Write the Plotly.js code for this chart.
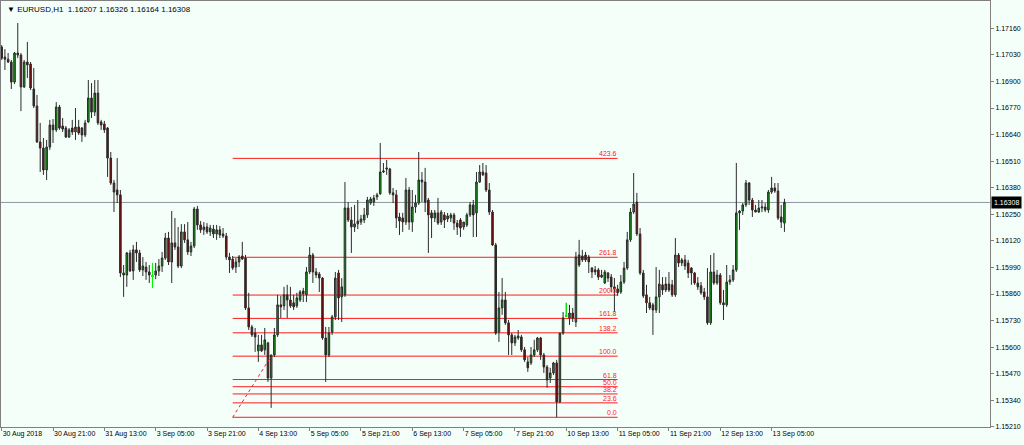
<!DOCTYPE html>
<html>
<head>
<meta charset="utf-8">
<script src="https://cdn.plot.ly/plotly-3.0.1.min.js"></script>
<style>
  html, body { margin: 0; padding: 0; background: #f5fffa; }
  #chart { width: 1024px; height: 445px; }
</style>
</head>
<body>
<div id="chart"></div>
<script>
// EURUSD H1 candles, oldest first
const opens = [
  1.17068,1.17019,1.17009,1.16995,1.16897,1.17039,1.17029,1.16873,1.16995,1.16985,
  1.16863,1.16780,1.16604,1.16574,1.16467,1.16579,1.16687,1.16663,1.16775,1.16682,
  1.16672,1.16628,1.16672,1.16653,1.16677,1.16672,1.16638,1.16702,1.16819,1.16750,
  1.16843,1.16702,1.16692,1.16672,1.16525,1.16403,1.16369,1.16345,1.15963,1.15953,
  1.16061,1.15973,1.16076,1.16061,1.15978,1.15992,1.15968,1.15948,1.15953,1.15973,
  1.15997,1.16036,1.16134,1.16017,1.16110,1.16090,1.15997,1.16164,1.16125,1.16066,
  1.16095,1.16276,1.16198,1.16174,1.16188,1.16164,1.16178,1.16154,1.16174,1.16154,
  1.16144,1.16041,1.16031,1.15992,1.16017,1.16046,1.16036,1.15792,1.15699,1.15669,
  1.15582,1.15611,1.15587,1.15621,1.15449,1.15562,1.15660,1.15807,1.15802,1.15856,
  1.15831,1.15817,1.15802,1.15831,1.15875,1.15856,1.15968,1.16051,1.15968,1.15958,
  1.15938,1.15645,1.15562,1.15674,1.15748,1.15963,1.15846,1.15856,1.16281,1.16222,
  1.16188,1.16203,1.16212,1.16222,1.16247,1.16305,1.16310,1.16335,1.16350,1.16457,
  1.16477,1.16472,1.16355,1.16345,1.16237,1.16232,1.16212,1.16369,1.16212,1.16286,
  1.16305,1.16418,1.16408,1.16320,1.16257,1.16232,1.16257,1.16212,1.16247,1.16227,
  1.16232,1.16247,1.16207,1.16222,1.16188,1.16198,1.16247,1.16296,1.16257,1.16408,
  1.16457,1.16452,1.16369,1.16261,1.16100,1.15674,1.15792,1.15831,1.15719,1.15660,
  1.15621,1.15645,1.15650,1.15587,1.15528,1.15523,1.15562,1.15587,1.15645,1.15562,
  1.15503,1.15449,1.15474,1.15523,1.15332,1.15669,1.15753,1.15743,1.15767,1.15723,
  1.16051,1.16046,1.16051,1.16041,1.15987,1.15978,1.15978,1.15943,1.15914,1.15963,
  1.15943,1.15895,1.15885,1.15870,1.15919,1.15987,1.16125,1.16261,1.16310,1.16154,
  1.15963,1.15856,1.15817,1.15807,1.15782,1.15846,1.15905,1.15880,1.15909,1.15905,
  1.15856,1.16051,1.16012,1.16027,1.16012,1.15987,1.15963,1.15914,1.15900,1.15870,
  1.15846,1.15719,1.15968,1.15914,1.15953,1.15817,1.15807,1.15919,1.15929,1.15978,
  1.16257,1.16266,1.16296,1.16403,1.16320,1.16271,1.16261,1.16281,1.16286,1.16271,
  1.16359,1.16379,1.16364,1.16237,1.16207
];
const highs = [
  1.17078,1.17058,1.17039,1.17005,1.17044,1.17186,1.17039,1.17005,1.17093,1.16995,
  1.16966,1.16834,1.16697,1.16623,1.16614,1.16712,1.16716,1.16799,1.16785,1.16721,
  1.16682,1.16672,1.16712,1.16770,1.16712,1.16677,1.16712,1.16907,1.16892,1.16907,
  1.16907,1.16712,1.16707,1.16677,1.16555,1.16418,1.16525,1.16369,1.16002,1.16066,
  1.16076,1.16100,1.16115,1.16076,1.16041,1.16017,1.16002,1.16012,1.16012,1.16031,
  1.16066,1.16159,1.16164,1.16266,1.16232,1.16188,1.16202,1.16202,1.16212,1.16115,
  1.16286,1.16291,1.16217,1.16212,1.16207,1.16198,1.16198,1.16198,1.16193,1.16183,
  1.16159,1.16061,1.16046,1.16036,1.16051,1.16115,1.16051,1.15866,1.15709,1.15694,
  1.15660,1.15660,1.15694,1.15626,1.15562,1.15694,1.15856,1.15851,1.15895,1.15905,
  1.15895,1.15856,1.15866,1.15880,1.15890,1.15992,1.16090,1.16061,1.15987,1.15968,
  1.15943,1.15699,1.15699,1.15758,1.15968,1.15978,1.15938,1.16408,1.16310,1.16286,
  1.16296,1.16320,1.16247,1.16281,1.16335,1.16335,1.16345,1.16355,1.16599,1.16501,
  1.16516,1.16477,1.16379,1.16369,1.16257,1.16257,1.16428,1.16384,1.16369,1.16345,
  1.16555,1.16457,1.16477,1.16330,1.16271,1.16271,1.16330,1.16271,1.16261,1.16257,
  1.16257,1.16257,1.16222,1.16232,1.16212,1.16257,1.16310,1.16320,1.16457,1.16491,
  1.16501,1.16491,1.16403,1.16271,1.16110,1.15870,1.15938,1.15870,1.15733,1.15669,
  1.15660,1.15684,1.15660,1.15601,1.15552,1.15601,1.15636,1.15650,1.15650,1.15572,
  1.15513,1.15499,1.15528,1.15538,1.15669,1.15772,1.15817,1.15807,1.15792,1.16066,
  1.16125,1.16076,1.16066,1.16051,1.15992,1.15997,1.15987,1.15978,1.15978,1.15968,
  1.15958,1.15938,1.15905,1.15953,1.16017,1.16164,1.16281,1.16452,1.16355,1.16183,
  1.15978,1.15905,1.15846,1.15817,1.15992,1.15978,1.15943,1.15943,1.15968,1.15929,
  1.16134,1.16061,1.16036,1.16051,1.16027,1.15992,1.15968,1.15943,1.15919,1.15890,
  1.15987,1.16051,1.16061,1.15978,1.15963,1.15880,1.16002,1.15953,1.16002,1.16501,
  1.16271,1.16305,1.16418,1.16408,1.16330,1.16296,1.16320,1.16320,1.16305,1.16369,
  1.16433,1.16403,1.16403,1.16296,1.16326
];
const lows = [
  1.17005,1.16956,1.16990,1.16863,1.16887,1.17014,1.16755,1.16868,1.16917,1.16858,
  1.16770,1.16599,1.16457,1.16443,1.16418,1.16565,1.16599,1.16653,1.16663,1.16653,
  1.16623,1.16623,1.16638,1.16614,1.16638,1.16604,1.16628,1.16697,1.16721,1.16731,
  1.16687,1.16663,1.16648,1.16433,1.16394,1.16261,1.16305,1.15943,1.15846,1.15895,
  1.15968,1.15929,1.16017,1.15968,1.15948,1.15929,1.15914,1.15890,1.15933,1.15948,
  1.15968,1.16027,1.16002,1.15914,1.16076,1.15987,1.15987,1.16110,1.16051,1.16046,
  1.16085,1.16174,1.16159,1.16149,1.16154,1.16144,1.16134,1.16125,1.16134,1.16134,
  1.16027,1.15963,1.15978,1.15963,1.15992,1.16027,1.15782,1.15684,1.15650,1.15577,
  1.15528,1.15577,1.15562,1.15430,1.15303,1.15552,1.15650,1.15743,1.15782,1.15743,
  1.15792,1.15782,1.15792,1.15821,1.15821,1.15821,1.15958,1.15914,1.15938,1.15870,
  1.15636,1.15430,1.15552,1.15660,1.15733,1.15733,1.15723,1.15846,1.16212,1.16061,
  1.16164,1.16178,1.16198,1.16207,1.16232,1.16296,1.16291,1.16320,1.16345,1.16452,
  1.16443,1.16345,1.16305,1.16183,1.16149,1.16164,1.16198,1.16174,1.16164,1.16257,
  1.16296,1.16310,1.16261,1.16061,1.16134,1.16212,1.16198,1.16198,1.16183,1.16212,
  1.16212,1.16174,1.16149,1.16139,1.16174,1.16188,1.16237,1.16139,1.16139,1.16403,
  1.16438,1.16359,1.16247,1.16095,1.15660,1.15626,1.15758,1.15709,1.15562,1.15562,
  1.15606,1.15636,1.15577,1.15528,1.15479,1.15513,1.15552,1.15577,1.15538,1.15474,
  1.15401,1.15425,1.15464,1.15257,1.15327,1.15660,1.15748,1.15709,1.15723,1.15699,
  1.15992,1.16017,1.16017,1.15963,1.15938,1.15953,1.15929,1.15938,1.15909,1.15919,
  1.15870,1.15772,1.15851,1.15861,1.15909,1.15978,1.16115,1.16252,1.16144,1.15953,
  1.15841,1.15767,1.15782,1.15660,1.15767,1.15767,1.15856,1.15870,1.15870,1.15846,
  1.15846,1.15992,1.15997,1.15978,1.15938,1.15905,1.15905,1.15880,1.15856,1.15831,
  1.15709,1.15709,1.15905,1.15905,1.15807,1.15733,1.15797,1.15905,1.15919,1.15968,
  1.16174,1.16247,1.16286,1.16296,1.16237,1.16261,1.16257,1.16261,1.16261,1.16257,
  1.16350,1.16355,1.16222,1.16183,1.16164
];
const closes = [
  1.17014,1.17009,1.16995,1.16897,1.17039,1.17029,1.16873,1.16995,1.16981,1.16868,
  1.16780,1.16604,1.16574,1.16467,1.16579,1.16687,1.16663,1.16775,1.16672,1.16667,
  1.16628,1.16663,1.16653,1.16677,1.16648,1.16638,1.16697,1.16819,1.16750,1.16843,
  1.16697,1.16687,1.16663,1.16525,1.16403,1.16359,1.16345,1.15963,1.15953,1.16061,
  1.15973,1.16076,1.16061,1.15978,1.15997,1.15968,1.15953,1.15948,1.15973,1.15997,
  1.16036,1.16134,1.16017,1.16110,1.16090,1.15997,1.16164,1.16125,1.16066,1.16095,
  1.16276,1.16198,1.16174,1.16188,1.16164,1.16183,1.16154,1.16174,1.16149,1.16144,
  1.16041,1.16027,1.15987,1.16017,1.16041,1.16031,1.15792,1.15699,1.15660,1.15650,
  1.15611,1.15582,1.15636,1.15449,1.15562,1.15660,1.15807,1.15797,1.15856,1.15831,
  1.15802,1.15797,1.15841,1.15870,1.15861,1.15968,1.16051,1.15968,1.15953,1.15938,
  1.15645,1.15562,1.15669,1.15748,1.15938,1.15841,1.15895,1.16281,1.16222,1.16188,
  1.16203,1.16217,1.16227,1.16247,1.16320,1.16325,1.16330,1.16345,1.16457,1.16462,
  1.16472,1.16355,1.16345,1.16232,1.16217,1.16212,1.16369,1.16212,1.16286,1.16305,
  1.16418,1.16408,1.16310,1.16247,1.16232,1.16257,1.16207,1.16261,1.16222,1.16242,
  1.16247,1.16207,1.16188,1.16183,1.16212,1.16247,1.16296,1.16247,1.16408,1.16457,
  1.16443,1.16369,1.16261,1.16100,1.15669,1.15792,1.15831,1.15719,1.15660,1.15621,
  1.15650,1.15655,1.15587,1.15538,1.15499,1.15562,1.15587,1.15645,1.15562,1.15503,
  1.15440,1.15474,1.15523,1.15332,1.15669,1.15743,1.15753,1.15767,1.15743,1.16041,
  1.16002,1.16027,1.16027,1.16017,1.15968,1.15968,1.15943,1.15953,1.15968,1.15938,
  1.15895,1.15885,1.15866,1.15919,1.15987,1.16125,1.16261,1.16300,1.16154,1.15963,
  1.15851,1.15817,1.15792,1.15782,1.15846,1.15909,1.15880,1.15909,1.15880,1.15856,
  1.16051,1.16012,1.16027,1.15997,1.15963,1.15963,1.15914,1.15895,1.15866,1.15846,
  1.15719,1.15968,1.15914,1.15953,1.15817,1.15807,1.15919,1.15929,1.15978,1.16257,
  1.16266,1.16296,1.16403,1.16320,1.16271,1.16261,1.16281,1.16286,1.16271,1.16359,
  1.16379,1.16364,1.16232,1.16212,1.16308
];

// bars where open equals close, drawn in the doji colour
const dojiBars = [47, 176];

// time axis labels, one every 16 bars
const timeTickBars = [0, 16, 32, 48, 64, 80, 96, 112, 128, 144, 160, 176, 192, 208, 224, 240];
const timeTickLabels = [
  '30 Aug 2018', '30 Aug 21:00', '31 Aug 13:00', '3 Sep 05:00', '3 Sep 21:00',
  '4 Sep 13:00', '5 Sep 05:00', '5 Sep 21:00', '6 Sep 13:00', '7 Sep 05:00',
  '7 Sep 21:00', '10 Sep 13:00', '11 Sep 05:00', '11 Sep 21:00', '12 Sep 13:00',
  '13 Sep 05:00'
];

// price scale labels
const priceTicks = [
  1.15210, 1.15340, 1.15470, 1.15600, 1.15730, 1.15860, 1.15990, 1.16120,
  1.16250, 1.16380, 1.16510, 1.16640, 1.16770, 1.16900, 1.17030, 1.17160
];

// Fibonacci retracement object
const fibAnchorBars = [72, 84];
const fibAnchorPrices = [1.15257, 1.15556];
const fibSpanBars = [72, 192];
const fibRatios = [0, 23.6, 38.2, 50.0, 61.8, 100.0, 138.2, 161.8, 200.0, 261.8, 423.6];

const symbolName = 'EURUSD,H1';
const bidPrice = 1.16308;

// ---- build the figure ----
const barIndex = closes.map((_, i) => i);
const FONT = 'Liberation Sans, Arial, sans-serif';
const FIB_RED = '#ff1a1a';

const fibLevel = r => fibAnchorPrices[0] + (fibAnchorPrices[1] - fibAnchorPrices[0]) * r / 100;

const shapes = [];
const annotations = [];

// current bid line
shapes.push({
  type: 'line', xref: 'paper', x0: 0, x1: 1, yref: 'y', y0: bidPrice, y1: bidPrice,
  line: { color: '#8d979f', width: 1 }, layer: 'below'
});

fibRatios.forEach(r => {
  const p = fibLevel(r);
  shapes.push({
    type: 'line', xref: 'x', x0: fibSpanBars[0], x1: fibSpanBars[1], yref: 'y', y0: p, y1: p,
    line: { color: FIB_RED, width: 1 }, layer: 'below'
  });
  annotations.push({
    xref: 'x', x: fibSpanBars[1], yref: 'y', y: p, text: r.toFixed(1),
    xanchor: 'right', yanchor: 'bottom', showarrow: false, borderpad: 0, yshift: 0,
    font: { family: FONT, size: 7, color: FIB_RED }
  });
});

// bid price tag on the price scale
annotations.push({
  xref: 'paper', x: 1, yref: 'y', y: bidPrice, text: bidPrice.toFixed(5),
  xanchor: 'left', yanchor: 'middle', showarrow: false, xshift: 1,
  bgcolor: '#000000', borderpad: 2,
  font: { family: FONT, size: 7, color: '#ffffff' }
});

// symbol header with the last bar's OHLC
const last = closes.length - 1;
annotations.push({
  xref: 'paper', x: 0, yref: 'paper', y: 1, xanchor: 'left', yanchor: 'top',
  xshift: 4, yshift: -2, showarrow: false,
  text: '\u25BC ' + symbolName + '  ' + [opens[last], highs[last], lows[last], closes[last]].map(v => v.toFixed(5)).join(' '),
  font: { family: FONT, size: 8, color: '#000000' }
});

const traces = [
  {
    type: 'scatter', mode: 'lines', x: fibAnchorBars, y: fibAnchorPrices,
    line: { color: FIB_RED, width: 1, dash: 'dot' }, hoverinfo: 'skip', showlegend: false
  },
  {
    type: 'candlestick', x: barIndex, open: opens, high: highs, low: lows, close: closes,
    increasing: { line: { color: '#2b2b2b', width: 1 }, fillcolor: '#0fa00f' },
    decreasing: { line: { color: '#2b2b2b', width: 1 }, fillcolor: '#8b0000' },
    whiskerwidth: 0, hoverinfo: 'skip', showlegend: false
  },
  {
    type: 'candlestick', x: dojiBars,
    open: dojiBars.map(i => opens[i]), high: dojiBars.map(i => highs[i]),
    low: dojiBars.map(i => lows[i]), close: dojiBars.map(i => closes[i]),
    increasing: { line: { color: '#00ff00', width: 1 }, fillcolor: '#00ff00' },
    decreasing: { line: { color: '#00ff00', width: 1 }, fillcolor: '#00ff00' },
    whiskerwidth: 0, hoverinfo: 'skip', showlegend: false
  }
];

const layout = {
  width: 1024, height: 445,
  margin: { l: 1, r: 34, t: 1, b: 18 },
  paper_bgcolor: '#f5fffa', plot_bgcolor: '#f5fffa',
  showlegend: false, hovermode: false,
  font: { family: FONT, size: 7, color: '#000000' },
  xaxis: {
    type: 'linear', range: [-0.22, 308.08], fixedrange: true,
    rangeslider: { visible: false },
    showgrid: false, zeroline: false,
    showline: true, mirror: true, linecolor: '#808080', linewidth: 1,
    ticks: 'outside', ticklen: 3, tickcolor: '#808080', tickwidth: 1,
    tickmode: 'array', tickvals: timeTickBars, ticktext: timeTickLabels,
    ticklabelposition: 'outside right',
    tickfont: { family: FONT, size: 7, color: '#000000' }
  },
  yaxis: {
    side: 'right', range: [1.152095, 1.172935], fixedrange: true,
    showgrid: false, zeroline: false,
    showline: true, mirror: true, linecolor: '#808080', linewidth: 1,
    ticks: 'outside', ticklen: 3, tickcolor: '#808080', tickwidth: 1,
    tickmode: 'array', tickvals: priceTicks, ticktext: priceTicks.map(v => v.toFixed(5)),
    tickfont: { family: FONT, size: 7, color: '#000000' }
  },
  shapes: shapes,
  annotations: annotations
};

Plotly.newPlot('chart', traces, layout, { displayModeBar: false, staticPlot: true });
</script>
</body>
</html>
